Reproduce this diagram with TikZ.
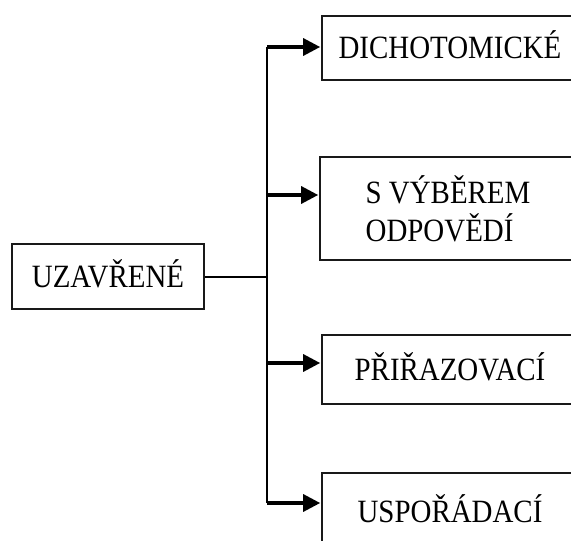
\documentclass[tikz,border=0pt]{standalone}
\usepackage{fontspec}
\setmainfont[FakeStretch=0.89]{Liberation Serif}
\usetikzlibrary{arrows.meta}
\begin{document}
\begin{tikzpicture}[x=1pt,y=-1pt,
  box/.style={draw=black!90,line width=2pt,fill=white,inner sep=0pt,
    font=\fontsize{32.5}{38}\selectfont,text height=21.5pt,text depth=0pt},
  trunk/.style={line width=2.4pt,black},
  arr/.style={line width=3.2pt,black,-{Triangle[length=17pt,width=17pt]},shorten >=0.8pt}]
\useasboundingbox (0,0) rectangle (571,541);
\clip (0,0) rectangle (571,541);
\node[box,minimum width=192pt,minimum height=65pt] (u) at (108,276.5) {UZAVŘENÉ};
\node[box,minimum width=256pt,minimum height=64pt] (d1) at (450,48) {DICHOTOMICKÉ};
\node[box,minimum width=256pt,minimum height=103pt,align=left,text height=,text depth=] (d2) at (448,208.5) {S VÝBĚREM\\ODPOVĚDÍ};
\node[box,minimum width=256pt,minimum height=69pt] (d3) at (450,369.5) {PŘIŘAZOVACÍ};
\node[box,minimum width=256pt,minimum height=78pt] (d4) at (450,512) {USPOŘÁDACÍ};
\coordinate (j0) at (267,276.5);
\coordinate (j1) at (267,47);
\coordinate (j2) at (267,195);
\coordinate (j3) at (267,363);
\coordinate (j4) at (267,503);
\draw[line width=2pt] (u.east) -- (j0);
\draw[trunk] (j1) -- (j4);
\draw[arr] (j1) -- (j1 -| d1.west);
\draw[arr] (j2) -- (j2 -| d2.west);
\draw[arr] (j3) -- (j3 -| d3.west);
\draw[arr] (j4) -- (j4 -| d4.west);
\end{tikzpicture}
\end{document}
